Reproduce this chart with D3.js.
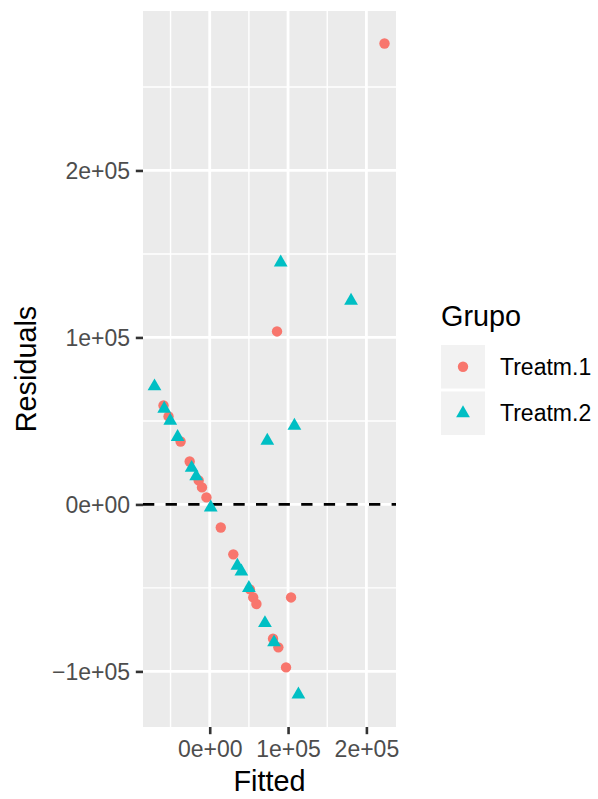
<!DOCTYPE html>
<html>
<head>
<meta charset="utf-8">
<script src="https://cdn.jsdelivr.net/npm/d3@7"></script>
<style>
  body { margin: 0; background: #ffffff; }
  svg { display: block; }
</style>
</head>
<body>
<script>
// Residuals vs fitted values, by treatment group
const groups = ["Treatm.1", "Treatm.2"];
const groupColors = ["#F8766D", "#00BFC4"];

const fitted1 = [223100, 85900, -59000, -52600, -37200, -25600, -14100, -9900, -4200,
                 14100, 30100, 51300, 55500, 59600, 103800, 80800, 87600, 97400];
const resid1  = [276000, 103600, 59300, 52700, 37700, 25700, 14400, 10200, 4200,
                 -13800, -29900, -50900, -55700, -59600, -55700, -80400, -85600, -97600];

const fitted2 = [-70500, -58100, -50400, -41000, -23100, -17300, 1300, 35300, 40400,
                 50000, 70500, 82100, 113200, 90600, 180400, 73500, 108100];
const resid2  = [70700, 57300, 50100, 40400, 21900, 16800, -1800, -36700, -40200,
                 -50000, -71100, -82600, -113800, 144900, 122000, 38100, 47100];

const xTicks = [0, 1e5, 2e5];
const xTickLabels = ["0e+00", "1e+05", "2e+05"];
const yTicks = [-1e5, 0, 1e5, 2e5];
const yTickLabels = ["\u22121e+05", "0e+00", "1e+05", "2e+05"];

const W = 598, H = 799;
const panel = { left: 143, right: 396, top: 11, bottom: 727 };
const font = "'Liberation Sans', Arial, Helvetica, sans-serif";

const svg = d3.select("body").append("svg")
  .attr("width", W).attr("height", H)
  .attr("viewBox", `0 0 ${W} ${H}`);

// ggplot-style 5% expansion of the data range
function expand(vals) {
  const [lo, hi] = d3.extent(vals);
  const pad = (hi - lo) * 0.05;
  return [lo - pad, hi + pad];
}
const x = d3.scaleLinear().domain(expand(fitted1.concat(fitted2))).range([panel.left, panel.right]);
const y = d3.scaleLinear().domain(expand(resid1.concat(resid2))).range([panel.bottom, panel.top]);

// minor breaks halfway between majors, kept inside the panel
function minors(ticks, domain) {
  const step = ticks[1] - ticks[0];
  const out = [];
  for (let v = ticks[0] - step * 3 + step / 2; v <= ticks[ticks.length - 1] + step * 3; v += step) {
    if (v > domain[0] && v < domain[1]) out.push(v);
  }
  return out;
}
function majors(ticks, domain) {
  const step = ticks[1] - ticks[0];
  const out = [];
  for (let v = ticks[0] - step * 3; v <= ticks[ticks.length - 1] + step * 3; v += step) {
    if (v >= domain[0] && v <= domain[1]) out.push(v);
  }
  return out;
}

// panel background
svg.append("rect")
  .attr("x", panel.left).attr("y", panel.top)
  .attr("width", panel.right - panel.left).attr("height", panel.bottom - panel.top)
  .attr("fill", "#EBEBEB");

const grid = svg.append("g");
grid.selectAll(".xminor").data(minors(xTicks, x.domain())).join("line")
  .attr("x1", d => x(d)).attr("x2", d => x(d))
  .attr("y1", panel.top).attr("y2", panel.bottom)
  .attr("stroke", "#fff").attr("stroke-width", 1.4);
grid.selectAll(".yminor").data(minors(yTicks, y.domain())).join("line")
  .attr("y1", d => y(d)).attr("y2", d => y(d))
  .attr("x1", panel.left).attr("x2", panel.right)
  .attr("stroke", "#fff").attr("stroke-width", 1.4);
grid.selectAll(".xmajor").data(majors(xTicks, x.domain())).join("line")
  .attr("x1", d => x(d)).attr("x2", d => x(d))
  .attr("y1", panel.top).attr("y2", panel.bottom)
  .attr("stroke", "#fff").attr("stroke-width", 2.8);
grid.selectAll(".ymajor").data(majors(yTicks, y.domain())).join("line")
  .attr("y1", d => y(d)).attr("y2", d => y(d))
  .attr("x1", panel.left).attr("x2", panel.right)
  .attr("stroke", "#fff").attr("stroke-width", 2.8);

// zero reference line
svg.append("line")
  .attr("x1", panel.left).attr("x2", panel.right)
  .attr("y1", y(0)).attr("y2", y(0))
  .attr("stroke", "#000").attr("stroke-width", 2.8)
  .attr("stroke-dasharray", "11.3,11.3");

// points
const circleR = 5.2;
const triangle = d3.symbol().type(d3.symbolTriangle).size(82);

const pts1 = fitted1.map((f, i) => ({ f, r: resid1[i] }));
const pts2 = fitted2.map((f, i) => ({ f, r: resid2[i] }));

svg.append("g").selectAll("circle").data(pts1).join("circle")
  .attr("cx", d => x(d.f)).attr("cy", d => y(d.r)).attr("r", circleR)
  .attr("fill", groupColors[0]);
svg.append("g").selectAll("path").data(pts2).join("path")
  .attr("d", triangle)
  .attr("transform", d => `translate(${x(d.f)},${y(d.r)})`)
  .attr("fill", groupColors[1]);

// axes
const xAxis = svg.append("g").attr("transform", `translate(0,${panel.bottom})`)
  .call(d3.axisBottom(x).tickValues(xTicks).tickSize(7.2).tickPadding(5.8)
    .tickFormat((d, i) => xTickLabels[i]));
const yAxis = svg.append("g").attr("transform", `translate(${panel.left},0)`)
  .call(d3.axisLeft(y).tickValues(yTicks).tickSize(7.2).tickPadding(5.8)
    .tickFormat((d, i) => yTickLabels[i]));
[xAxis, yAxis].forEach(a => {
  a.select(".domain").remove();
  a.selectAll(".tick line").attr("stroke", "#333333").attr("stroke-width", 2.6);
  a.selectAll(".tick text").attr("fill", "#4D4D4D")
    .style("font-family", font).style("font-size", "23px");
});
xAxis.selectAll(".tick text").attr("dy", null).attr("y", 0)
  .attr("transform", "translate(0,29.5)");
yAxis.selectAll(".tick text").attr("dy", "0.35em");

// axis titles
svg.append("text")
  .attr("x", (panel.left + panel.right) / 2).attr("y", 791)
  .attr("text-anchor", "middle")
  .style("font-family", font).style("font-size", "28.8px").attr("fill", "#000")
  .text("Fitted");
svg.append("text")
  .attr("transform", `translate(36,${(panel.top + panel.bottom) / 2}) rotate(-90)`)
  .attr("text-anchor", "middle")
  .style("font-family", font).style("font-size", "28.8px").attr("fill", "#000")
  .text("Residuals");

// legend
const legend = svg.append("g");
legend.append("text")
  .attr("x", 441).attr("y", 326)
  .style("font-family", font).style("font-size", "28.8px").attr("fill", "#000")
  .text("Grupo");
const keyY = [345, 391.5];
groups.forEach((g, i) => {
  legend.append("rect")
    .attr("x", 441).attr("y", keyY[i]).attr("width", 44).attr("height", 43.5)
    .attr("fill", "#F2F2F2");
  const cx = 463, cy = keyY[i] + 21.75;
  if (i === 0) {
    legend.append("circle").attr("cx", cx).attr("cy", cy).attr("r", circleR).attr("fill", groupColors[0]);
  } else {
    legend.append("path").attr("d", triangle).attr("transform", `translate(${cx},${cy})`).attr("fill", groupColors[1]);
  }
  legend.append("text")
    .attr("x", 500).attr("y", cy + 8.2)
    .style("font-family", font).style("font-size", "23px").attr("fill", "#000")
    .text(g);
});
</script>
</body>
</html>
